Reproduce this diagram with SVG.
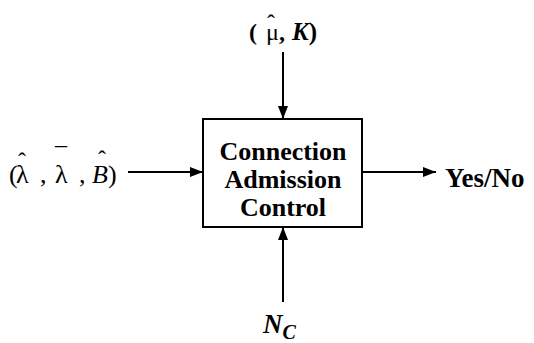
<svg xmlns="http://www.w3.org/2000/svg" width="534" height="343" viewBox="0 0 534 343">
<defs>
<marker id="ah" markerWidth="13" markerHeight="10" refX="13" refY="5" orient="auto" markerUnits="userSpaceOnUse">
<path d="M0,0 L13,5 L0,10 Z" fill="#000"/>
</marker>
<style>
.t{font-family:'Liberation Serif','Times New Roman',serif;fill:#000}
.bx{font-size:26px;font-weight:bold}
.m{font-size:26px}
.acc{font-size:24px}
.l{stroke:#000;stroke-width:2;fill:none;marker-end:url(#ah)}
</style>
</defs>
<rect width="534" height="343" fill="#fff"/>
<g id="connectors">
<line class="l" x1="283" y1="52" x2="283" y2="119"/>
<line class="l" x1="283" y1="302" x2="283" y2="227"/>
<line class="l" x1="128" y1="172" x2="203" y2="172"/>
<line class="l" x1="362" y1="172" x2="436" y2="172"/>
</g>
<g id="cac">
<rect x="203" y="119" width="159" height="108" fill="#fff" stroke="#000" stroke-width="2"/>
<text class="t bx" x="283" y="160" text-anchor="middle">Connection</text>
<text class="t bx" x="283" y="188" text-anchor="middle">Admission</text>
<text class="t bx" x="283" y="216" text-anchor="middle">Control</text>
</g>
<g id="top">
<text class="t" x="249" y="40" font-size="24" font-weight="bold">(</text>
<text class="t" x="266" y="40" font-size="24">μ</text>
<text class="t acc" x="267" y="31">ˆ</text>
<text class="t" x="279" y="40" font-size="24" font-weight="bold">,</text>
<text class="t" x="292" y="40" font-size="25" font-weight="bold" font-style="italic">K<tspan font-style="normal">)</tspan></text>
</g>
<g id="left">
<text class="t m" x="9" y="183">(</text>
<text class="t m" x="16" y="183">λ</text>
<text class="t acc" x="18" y="169">ˆ</text>
<text class="t m" x="40" y="183">,</text>
<text class="t m" x="55" y="183">λ</text>
<text class="t acc" x="55" y="164">¯</text>
<text class="t m" x="79" y="183">,</text>
<text class="t m" x="92" y="183" font-style="italic">B</text>
<text class="t acc" x="98" y="167">ˆ</text>
<text class="t m" x="108" y="183">)</text>
</g>
<g id="out">
<text class="t" x="445" y="187" font-size="27" font-weight="bold">Yes/No</text>
</g>
<g id="nc">
<text class="t" x="263" y="333" font-size="27" font-weight="bold" font-style="italic">N<tspan font-size="20" dy="6">C</tspan></text>
</g>
</svg>
